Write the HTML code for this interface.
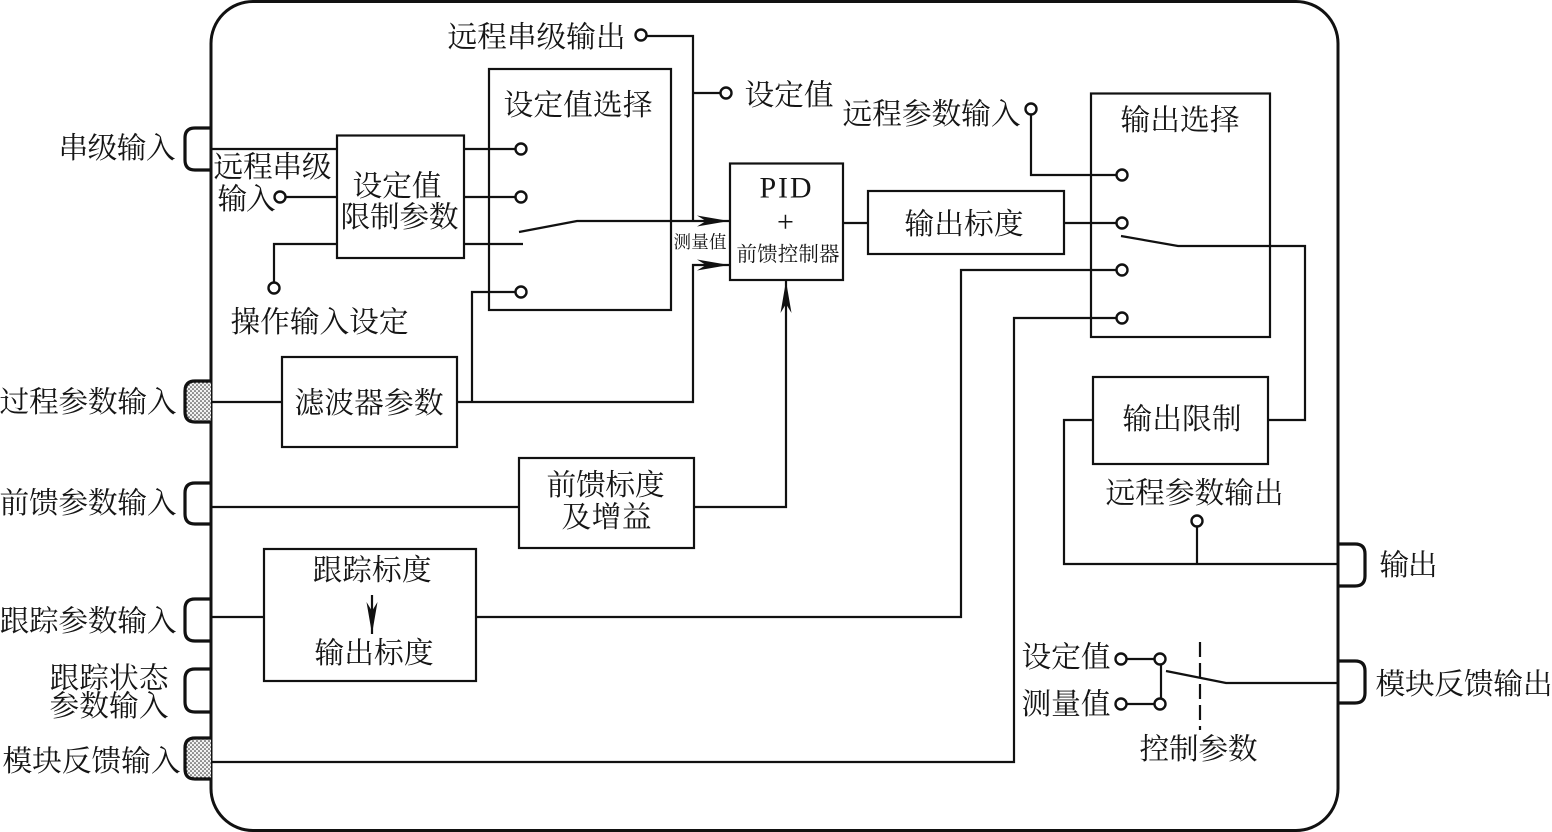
<!DOCTYPE html>
<html lang="zh">
<head>
<meta charset="utf-8">
<title>PID</title>
<style>
html,body{margin:0;padding:0;background:#fff;width:1552px;height:832px;overflow:hidden}
svg{display:block}
text{font-family:"Liberation Serif","Noto Serif CJK SC",serif;font-size:29.7px;fill:#151515;dominant-baseline:central}
.b{fill:#fff;stroke:#111;stroke-width:2.2}
.l{fill:none;stroke:#111;stroke-width:2.2}
.c{fill:#fff;stroke:#111;stroke-width:2.4}
.p{stroke:#111;stroke-width:3.2}
</style>
</head>
<body>
<svg width="1552" height="832" viewBox="0 0 1552 832" xmlns="http://www.w3.org/2000/svg">
<defs>
<pattern id="d" width="4" height="4" patternUnits="userSpaceOnUse">
<rect width="4" height="4" fill="#f2f2f2"/>
<circle cx="1" cy="1" r="0.8" fill="#222"/>
<circle cx="3" cy="3" r="0.8" fill="#222"/>
</pattern>
<marker id="a" markerWidth="34" markerHeight="14" refX="32" refY="7" orient="auto" markerUnits="userSpaceOnUse">
<path d="M0,1.500 L32,7 L0,12.500 L9,7 Z" fill="#111"/>
</marker>
</defs>

<rect x="211" y="1.500" width="1127" height="829" rx="42" ry="42" fill="#fff" stroke="#111" stroke-width="3"/>

<!-- ports -->
<path class="p" fill="none" d="M211,128 H195 Q185,128 185,138 V160 Q185,170 195,170 H211"/>
<path class="p" fill="url(#d)" d="M211,381 H195 Q185,381 185,391 V412 Q185,422 195,422 H211"/>
<path class="p" fill="none" d="M211,483 H195 Q185,483 185,493 V514 Q185,524 195,524 H211"/>
<path class="p" fill="none" d="M211,599 H195 Q185,599 185,609 V631 Q185,641 195,641 H211"/>
<path class="p" fill="none" d="M211,669 H195 Q185,669 185,679 V702 Q185,712 195,712 H211"/>
<path class="p" fill="url(#d)" d="M211,738 H195 Q185,738 185,748 V769 Q185,779 195,779 H211"/>
<path class="p" fill="none" d="M1338,544 H1355 Q1365,544 1365,554 V576 Q1365,586 1355,586 H1338"/>
<path class="p" fill="none" d="M1338,661 H1355 Q1365,661 1365,671 V693 Q1365,703 1355,703 H1338"/>

<!-- boxes -->
<rect class="b" x="489" y="69" width="182" height="241"/>
<rect class="b" x="337" y="135.500" width="127" height="122.500"/>
<rect class="b" x="730" y="163.500" width="113" height="116.500"/>
<rect class="b" x="868" y="191" width="196" height="63"/>
<rect class="b" x="1091" y="93.500" width="179" height="243.500"/>
<rect class="b" x="282" y="357" width="175" height="90"/>
<rect class="b" x="1093" y="377" width="175" height="87"/>
<rect class="b" x="519" y="458" width="175" height="90"/>
<rect class="b" x="264" y="549" width="212" height="132"/>

<!-- connectors -->
<path class="l" d="M212,149 H337"/>
<path class="l" d="M286,197 H337"/>
<path class="l" d="M337,244 H274 V282"/>
<path class="l" d="M464,149 H515"/>
<path class="l" d="M464,197 H515"/>
<path class="l" d="M464,244 H523"/>
<path class="l" d="M519,232 L577,221 H729" marker-end="url(#a)"/>
<path class="l" d="M515,292 H472 V402"/>
<path class="l" d="M212,402 H282"/>
<path class="l" d="M457,402 H693 V265 H729" marker-end="url(#a)"/>
<path class="l" d="M693,221 V36 H647"/>
<path class="l" d="M693,93 H720"/>
<path class="l" d="M694,507 H786 V281" marker-end="url(#a)"/>
<path class="l" d="M212,507 H519"/>
<path class="l" d="M843,223 H868"/>
<path class="l" d="M1064,223 H1116"/>
<path class="l" d="M1031,115 V175 H1116"/>
<path class="l" d="M476,617 H961 V270 H1116"/>
<path class="l" d="M212,762 H1014 V318 H1116"/>
<path class="l" d="M1121,236 L1178,246 H1305 V420 H1268"/>
<path class="l" d="M1093,420 H1064 V564 H1338"/>
<path class="l" d="M1197,564 V527"/>
<path class="l" d="M212,617 H264"/>
<path class="l" d="M372,595 V634" marker-end="url(#a)"/>
<path class="l" d="M1127,659 H1154"/>
<path class="l" d="M1127,704 H1154"/>
<path class="l" d="M1161,665 V698"/>
<path class="l" d="M1166,671 L1226,683 H1338"/>
<path class="l" d="M1200,642 V730" stroke-dasharray="15 6"/>

<!-- terminals -->
<circle class="c" cx="280" cy="197" r="5.500"/>
<circle class="c" cx="274" cy="288" r="5.500"/>
<circle class="c" cx="521" cy="149" r="5.500"/>
<circle class="c" cx="521" cy="197" r="5.500"/>
<circle class="c" cx="521" cy="292" r="5.500"/>
<circle class="c" cx="641" cy="35" r="5.500"/>
<circle class="c" cx="726" cy="93" r="5.500"/>
<circle class="c" cx="1031" cy="109" r="5.500"/>
<circle class="c" cx="1122" cy="175" r="5.500"/>
<circle class="c" cx="1122" cy="223" r="5.500"/>
<circle class="c" cx="1122" cy="270" r="5.500"/>
<circle class="c" cx="1122" cy="318" r="5.500"/>
<circle class="c" cx="1197" cy="521" r="5.500"/>
<circle class="c" cx="1121" cy="659" r="5.500"/>
<circle class="c" cx="1121" cy="704" r="5.500"/>
<circle class="c" cx="1160" cy="659" r="5.500"/>
<circle class="c" cx="1160" cy="704" r="5.500"/>

<!-- labels -->
<g transform="translate(-0.500,1.800)">
<text x="59" y="147" textLength="117">串级输入</text>
<text x="0" y="401" textLength="177">过程参数输入</text>
<text x="0" y="502" textLength="177">前馈参数输入</text>
<text x="0" y="620" textLength="177">跟踪参数输入</text>
<text x="50" y="677" textLength="119">跟踪状态</text>
<text x="50" y="705" textLength="119">参数输入</text>
<text x="3" y="760" textLength="178">模块反馈输入</text>
<text x="448" y="36" textLength="178">远程串级输出</text>
<text x="745" y="94" textLength="89">设定值</text>
<text x="843" y="113" textLength="178">远程参数输入</text>
<text x="504" y="104" textLength="149">设定值选择</text>
<text x="1121" y="119" textLength="119">输出选择</text>
<text x="214" y="166" textLength="118">远程串级</text>
<text x="218" y="198" textLength="58">输入</text>
<text x="353" y="185" textLength="89">设定值</text>
<text x="341" y="216" textLength="118">限制参数</text>
<text x="231" y="321" textLength="178">操作输入设定</text>
<text x="760" y="186" textLength="52" style="font-size:30px">PID</text>
<text x="786" y="220" text-anchor="middle" style="font-size:30px">+</text>
<text x="737" y="253" textLength="103" style="font-size:20.500px">前馈控制器</text>
<text x="674" y="240" textLength="53" style="font-size:17.500px">测量值</text>
<text x="905" y="223" textLength="119">输出标度</text>
<text x="295" y="402" textLength="149">滤波器参数</text>
<text x="1123" y="418" textLength="119">输出限制</text>
<text x="547" y="484" textLength="118">前馈标度</text>
<text x="562" y="516" textLength="90">及增益</text>
<text x="1106" y="492" textLength="178">远程参数输出</text>
<text x="1380" y="564" textLength="58">输出</text>
<text x="313" y="569" textLength="119">跟踪标度</text>
<text x="315" y="652" textLength="119">输出标度</text>
<text x="1022" y="656" textLength="89">设定值</text>
<text x="1022" y="703" textLength="89">测量值</text>
<text x="1140" y="748" textLength="118">控制参数</text>
<text x="1376" y="683" textLength="177">模块反馈输出</text>
</g>
</svg>
</body>
</html>
